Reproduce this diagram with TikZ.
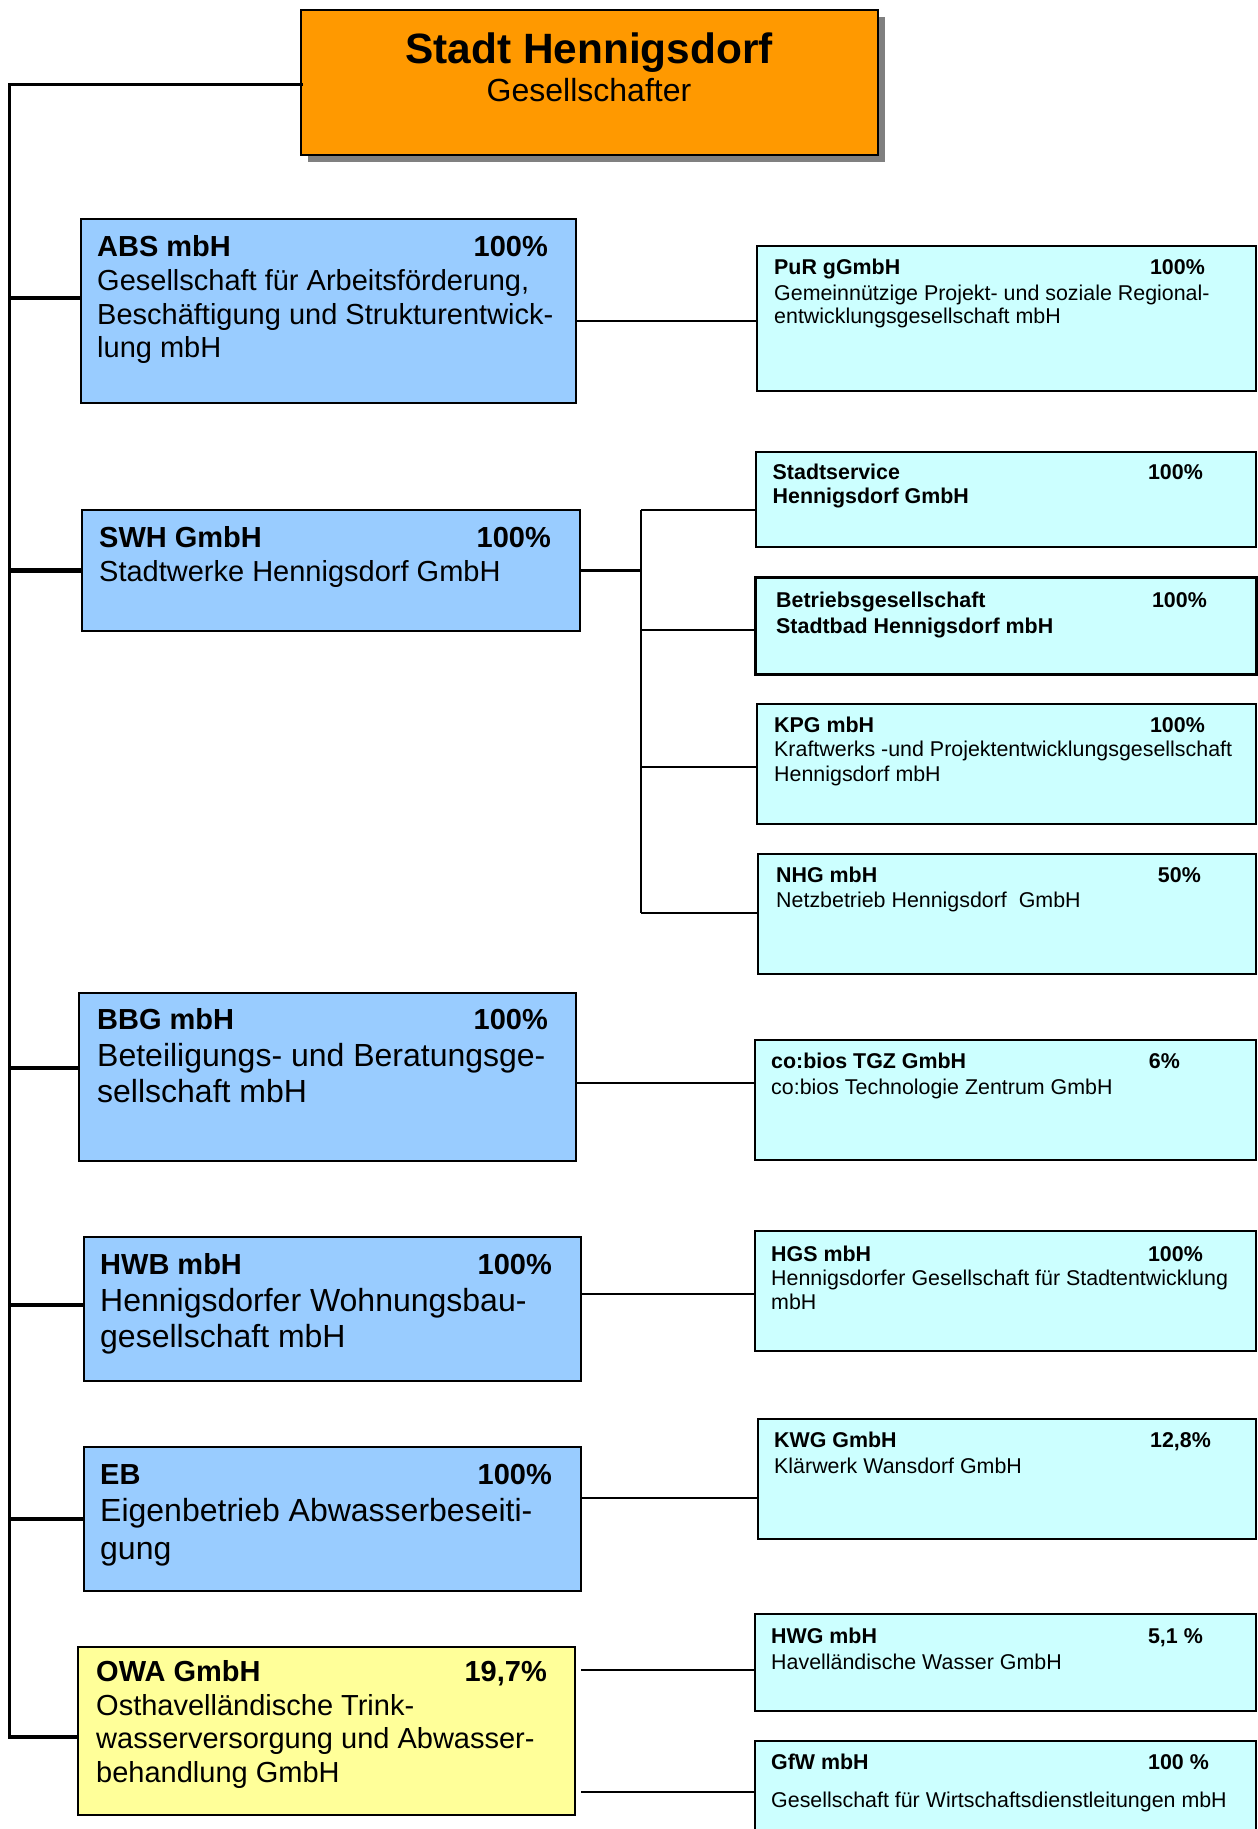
\documentclass[tikz,border=0pt]{standalone}
\usepackage{fontspec}
\setmainfont{Liberation Sans}
\definecolor{topor}{HTML}{FF9900}
\definecolor{lblue}{HTML}{99CCFF}
\definecolor{lcyan}{HTML}{CCFFFF}
\definecolor{lyell}{HTML}{FFFF99}
\definecolor{shadowgray}{HTML}{808080}
\tikzset{
  box/.style={draw=black, line width=2pt, anchor=north west, inner sep=0pt, outer sep=0pt},
  bluebox/.style={box, fill=lblue},
  cyanbox/.style={box, fill=lcyan},
  yellbox/.style={box, fill=lyell},
  mainline/.style={line width=3pt, line cap=rect},
  stub/.style={line width=4.5pt},
  conn/.style={line width=2.6pt},
  lt/.style={anchor=base west, inner sep=0pt, font=\fontsize{29}{34}\selectfont},
  ltl/.style={anchor=base west, inner sep=0pt, font=\fontsize{32}{36}\selectfont},
  ltb/.style={lt, font=\fontsize{29}{34}\selectfont\bfseries},
  lp/.style={anchor=base east, inner sep=0pt, font=\fontsize{29}{34}\selectfont\bfseries},
  rt/.style={anchor=base west, inner sep=0pt, font=\fontsize{21.4}{25}\selectfont},
  rtb/.style={rt, font=\fontsize{21.4}{25}\selectfont\bfseries},
  rp/.style={anchor=base east, inner sep=0pt, font=\fontsize{21.4}{25}\selectfont\bfseries},
}
\begin{document}
\begin{tikzpicture}[x=1pt,y=-1pt]
\useasboundingbox (0,0) rectangle (1258,1829);
\begin{scope}
\clip (0,0) rectangle (1258,1829);

% top box
\fill[shadowgray] (308,17) rectangle (885,162);
\node[box, fill=topor, minimum width=577pt, minimum height=145pt] (top) at (301,10) {};
\node[anchor=base, inner sep=0pt, font=\fontsize{42.4}{48}\selectfont\bfseries] (toptitle) at (589,63) {Stadt Hennigsdorf};
\node[anchor=base, inner sep=0pt, font=\fontsize{32}{36}\selectfont] (topsub) at (589,101) {Gesellschafter};

% left boxes
\node[bluebox, minimum width=495pt, minimum height=184pt] (abs) at (81,219) {};
\node[bluebox, minimum width=498pt, minimum height=121pt] (swh) at (82,510) {};
\node[bluebox, minimum width=497pt, minimum height=168pt] (bbg) at (79,993) {};
\node[bluebox, minimum width=497pt, minimum height=144pt] (hwb) at (84,1237) {};
\node[bluebox, minimum width=497pt, minimum height=144pt] (eb) at (84,1447) {};
\node[yellbox, minimum width=497pt, minimum height=168pt] (owa) at (78,1647) {};

% right boxes
\node[cyanbox, minimum width=499pt, minimum height=145pt] (pur) at (757,246) {};
\node[cyanbox, minimum width=500pt, minimum height=95pt] (sts) at (756,452) {};
\node[cyanbox, line width=3pt, minimum width=501pt, minimum height=97pt] (bet) at (755,577) {};
\node[cyanbox, minimum width=499pt, minimum height=120pt] (kpg) at (757,704) {};
\node[cyanbox, minimum width=498pt, minimum height=120pt] (nhg) at (758,854) {};
\node[cyanbox, minimum width=501pt, minimum height=120pt] (cob) at (755,1040) {};
\node[cyanbox, minimum width=501pt, minimum height=120pt] (hgs) at (755,1231) {};
\node[cyanbox, minimum width=498pt, minimum height=120pt] (kwg) at (758,1419) {};
\node[cyanbox, minimum width=501pt, minimum height=97pt] (hwg) at (755,1614) {};
\node[cyanbox, minimum width=501pt, minimum height=120pt] (gfw) at (755,1741) {};

% connectors
\coordinate (bus) at (9,84);
\draw[mainline] (top.west |- bus) -- (bus) -- (bus |- 0,1737);
\draw[stub] (bus |- 0,298) -- (abs.west |- 0,298);
\draw[stub] (bus |- swh.west) -- (swh.west);
\draw[stub] (bus |- 0,1068) -- (bbg.west |- 0,1068);
\draw[stub] (bus |- 0,1305) -- (hwb.west |- 0,1305);
\draw[stub] (bus |- 0,1519) -- (eb.west |- 0,1519);
\draw[stub] (bus |- 0,1737) -- (owa.west |- 0,1737);

\draw[conn] (abs.east |- 0,321) -- (pur.west |- 0,321);
\coordinate (sb) at (641,510);
\draw[conn] (swh.east) -- (sb |- swh.east);
\draw[conn] (sb) -- (sb |- 0,913);
\draw[conn] (sb) -- (sts.west |- sb);
\draw[conn] (sb |- 0,630) -- (bet.west |- 0,630);
\draw[conn] (sb |- 0,767) -- (kpg.west |- 0,767);
\draw[conn] (sb |- 0,913) -- (nhg.west |- 0,913);
\draw[conn] (bbg.east |- 0,1083) -- (cob.west |- 0,1083);
\draw[conn] (hwb.east |- 0,1294) -- (hgs.west |- 0,1294);
\draw[conn] (eb.east |- 0,1498) -- (kwg.west |- 0,1498);
\coordinate (owr) at (581,1670);
\draw[conn] (owr) -- (hwg.west |- owr);
\draw[conn] (owr |- 0,1792) -- (gfw.west |- 0,1792);

% left box texts
\node[ltb] (abs1) at (97,256.5) {ABS mbH};
\node[lp] (absp) at (548,256.5) {100\%};
\node[lt] (abs2) at (97,290.5) {Gesellschaft für Arbeitsförderung,};
\node[lt] (abs3) at (97,324.5) {Beschäftigung und Strukturentwick-};
\node[lt] (abs4) at (97,357.5) {lung mbH};

\node[ltb] (swh1) at (99,547.5) {SWH GmbH};
\node[lp] (swhp) at (551,547.5) {100\%};
\node[lt] (swh2) at (99,581.5) {Stadtwerke Hennigsdorf GmbH};

\node[ltb] (bbg1) at (97,1029.5) {BBG mbH};
\node[lp] (bbgp) at (548,1029.5) {100\%};
\node[ltl] (bbg2) at (97,1066.5) {Beteiligungs- und Beratungsge-};
\node[ltl] (bbg3) at (97,1102.5) {sellschaft mbH};

\node[ltb] (hwb1) at (100,1274.5) {HWB mbH};
\node[lp] (hwbp) at (552,1274.5) {100\%};
\node[ltl] (hwb2) at (100,1311.5) {Hennigsdorfer Wohnungsbau-};
\node[ltl] (hwb3) at (100,1347.5) {gesellschaft mbH};

\node[ltb] (eb1) at (100,1484.5) {EB};
\node[lp] (ebp) at (552,1484.5) {100\%};
\node[ltl] (eb2) at (100,1521.5) {Eigenbetrieb Abwasserbeseiti-};
\node[ltl] (eb3) at (100,1559) {gung};

\node[ltb] (owa1) at (96,1681.5) {OWA GmbH};
\node[lp] (owap) at (547,1681.5) {19,7\%};
\node[lt] (owa2) at (96,1715.5) {Osthavelländische Trink-};
\node[lt] (owa3) at (96,1748) {wasserversorgung und Abwasser-};
\node[lt] (owa4) at (96,1782) {behandlung GmbH};

% right box texts
\node[rtb] (pur1) at (774,274.5) {PuR gGmbH};
\node[rp] (purp) at (1205,274.5) {100\%};
\node[rt] (pur2) at (774,300.5) {Gemeinnützige Projekt- und soziale Regional-};
\node[rt] (pur3) at (774,323.5) {entwicklungsgesellschaft mbH};

\node[rtb] (sts1) at (772.5,479) {Stadtservice};
\node[rp] (stsp) at (1203,479) {100\%};
\node[rtb] (sts2) at (772.5,503.5) {Hennigsdorf GmbH};

\node[rtb] (bet1) at (776,607.5) {Betriebsgesellschaft};
\node[rp] (betp) at (1207,607.5) {100\%};
\node[rtb] (bet2) at (776,633) {Stadtbad Hennigsdorf mbH};

\node[rtb] (kpg1) at (774,732) {KPG mbH};
\node[rp] (kpgp) at (1205,732) {100\%};
\node[rt] (kpg2) at (774,756.5) {Kraftwerks -und Projektentwicklungsgesellschaft};
\node[rt] (kpg3) at (774,781.5) {Hennigsdorf mbH};

\node[rtb] (nhg1) at (776,882.5) {NHG mbH};
\node[rp] (nhgp) at (1201,882.5) {50\%};
\node[rt] (nhg2) at (776,907.5) {Netzbetrieb Hennigsdorf\ \ GmbH};

\node[rtb] (cob1) at (771,1068.5) {co:bios TGZ GmbH};
\node[rp] (cobp) at (1180,1068.5) {6\%};
\node[rt] (cob2) at (771,1094) {co:bios Technologie Zentrum GmbH};

\node[rtb] (hgs1) at (771,1261) {HGS mbH};
\node[rp] (hgsp) at (1203,1261) {100\%};
\node[rt] (hgs2) at (771,1285.5) {Hennigsdorfer Gesellschaft für Stadtentwicklung};
\node[rt] (hgs3) at (771,1309.5) {mbH};

\node[rtb] (kwg1) at (774,1447.5) {KWG GmbH};
\node[rp] (kwgp) at (1211,1447.5) {12,8\%};
\node[rt] (kwg2) at (774,1473.5) {Klärwerk Wansdorf GmbH};

\node[rtb] (hwg1) at (771,1643.5) {HWG mbH};
\node[rp] (hwgp) at (1203,1643.5) {5,1 \%};
\node[rt] (hwg2) at (771,1669.5) {Havelländische Wasser GmbH};

\node[rtb] (gfw1) at (771,1769.5) {GfW mbH};
\node[rp] (gfwp) at (1209,1769.5) {100 \%};
\node[rt] (gfw2) at (771,1807.5) {Gesellschaft für Wirtschaftsdienstleitungen mbH};
\end{scope}
\end{tikzpicture}
\end{document}
